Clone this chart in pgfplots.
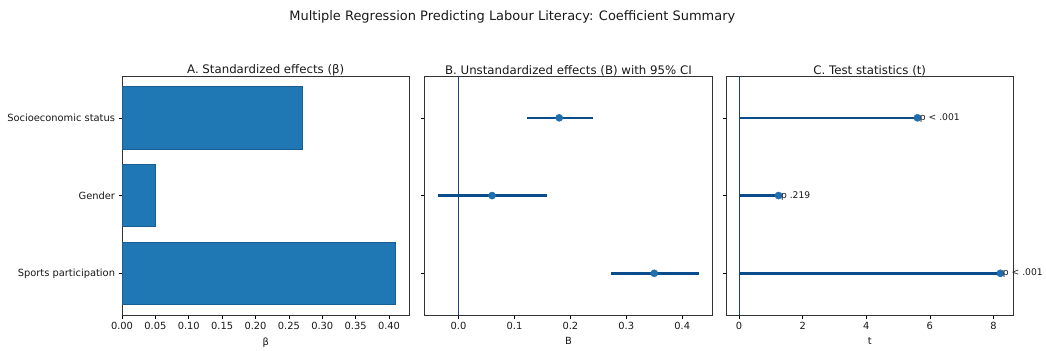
\documentclass[border=0pt]{standalone}
\usepackage{pgfplots}
\pgfplotsset{compat=1.18}
\usepackage{fontspec}
\setmainfont{DejaVu Sans}
\definecolor{barblue}{HTML}{1F77B4}
\definecolor{baredge}{HTML}{1A5E91}
\definecolor{navy}{HTML}{0B4C8C}
\definecolor{mk}{HTML}{1F6FB0}
\definecolor{zero}{HTML}{1F3F7A}
\pgfplotsset{
  panel/.style={
    scale only axis, width=288bp, height=240bp,
    anchor=south west,
    ymin=-0.54, ymax=2.54, y dir=reverse,
    ytick={0,1,2},
    tick align=outside, major tick length=3.5bp,
    xtick pos=bottom, ytick pos=left,
    tick style={black, line width=0.6bp},
    axis line style={line width=0.6bp, black!80},
    tick label style={font=\fontsize{9.9bp}{12bp}\selectfont, text=black!90},
    label style={font=\fontsize{9.9bp}{12bp}\selectfont, text=black!90},
    title style={font=\fontsize{11.8bp}{14bp}\selectfont, text=black!90, yshift=-10bp},
    /pgf/number format/assume math mode=true,
    xlabel style={yshift=-1bp},
    clip=false,
  }
}
\begin{document}
\begin{tikzpicture}[x=1bp,y=1bp]
\path (0,0) rectangle (1046,349);
\node[font=\fontsize{13bp}{16bp}\selectfont, text=black!90] at (513.5,332) {Multiple Regression Predicting Labour Literacy: Coefficient Summary};
% Panel A
\begin{axis}[panel, at={(122.3bp,33bp)},
  xmin=0, xmax=0.4305,
  xtick={0,0.05,...,0.40},
  xticklabel style={/pgf/number format/.cd, fixed, fixed zerofill, precision=2},
  yticklabels={Socioeconomic status, Gender, Sports participation},
  title={A. Standardized effects (β)}, xlabel={β}]
\addplot[xbar, bar width=0.8, bar shift=0pt, fill=barblue, draw=baredge, line width=0.8bp]
  coordinates {(0.27,0) (0.05,1) (0.41,2)};
\end{axis}
% Panel B
\begin{axis}[panel, at={(425.7bp,33bp)},
  xmin=-0.0604, xmax=0.4534,
  xtick={0,0.1,...,0.4},
  xticklabel style={/pgf/number format/.cd, fixed, fixed zerofill, precision=1},
  yticklabels={},
  title={B. Unstandardized effects (B) with 95\% CI}, xlabel={B}]
\addplot[zero, line width=0.8bp] coordinates {(0,-0.54) (0,2.54)};
\addplot[navy, line width=2.4bp] coordinates {(0.123,0) (0.240,0)};
\addplot[navy, line width=2.4bp] coordinates {(-0.037,1) (0.159,1)};
\addplot[navy, line width=2.4bp] coordinates {(0.273,2) (0.430,2)};
\addplot[only marks, mark=*, mark size=3.6bp, mark options={fill=mk, draw=mk}]
  coordinates {(0.18,0) (0.06,1) (0.35,2)};
\end{axis}
% Panel C
\begin{axis}[panel, at={(727.7bp,33bp)},
  xmin=-0.41, xmax=8.63,
  xtick={0,2,4,6,8},
  yticklabels={},
  title={C. Test statistics (t)}, xlabel={t}]
\addplot[zero, line width=0.8bp] coordinates {(0,-0.54) (0,2.54)};
\addplot[navy, line width=2.4bp] coordinates {(0,0) (5.61,0)};
\addplot[navy, line width=2.4bp] coordinates {(0,1) (1.24,1)};
\addplot[navy, line width=2.4bp] coordinates {(0,2) (8.22,2)};
\addplot[only marks, mark=*, mark size=3.6bp, mark options={fill=mk, draw=mk},
  point meta=explicit symbolic,
  nodes near coords,
  every node near coord/.append style={anchor=west, xshift=-1bp,
    font=\fontsize{9.2bp}{11bp}\selectfont, text=black!90}]
  coordinates {(5.61,0) [p < .001] (1.24,1) [p .219] (8.22,2) [p < .001]};
\end{axis}
\end{tikzpicture}
\end{document}
